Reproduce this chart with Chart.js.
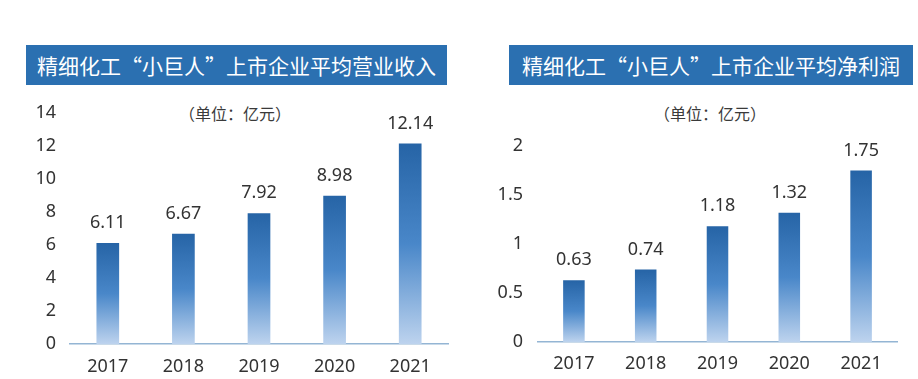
<!DOCTYPE html>
<html>
<head>
<meta charset="utf-8">
<script src="https://cdn.jsdelivr.net/npm/chart.js@4"></script>
<style>
  html, body { margin: 0; padding: 0; background: #fff; }
  body { width: 918px; height: 379px; position: relative; overflow: hidden;
         font-family: "Noto Sans CJK SC", "Noto Sans", sans-serif; }
  .banner { position: absolute; top: 45px; height: 40px; line-height: 40px;
            background: #2b70b1; color: #fff; font-size: 21px; text-align: center; }
  .unit { position: absolute; top: 101px; font-size: 16px; color: #3a3a3a;
          font-family: "Noto Sans CJK SC", serif; }
  .box { position: absolute; }
</style>
</head>
<body>
<div class="banner" style="left:26px;width:421px">精细化工“小巨人”上市企业平均营业收入</div>
<div class="banner" style="left:509px;width:404px">精细化工“小巨人”上市企业平均净利润</div>
<div class="unit" style="left:179px">（单位：亿元）</div>
<div class="unit" style="left:654px">（单位：亿元）</div>
<div class="box" style="left:0;top:88px;width:460px;height:291px"><canvas id="revChart"></canvas></div>
<div class="box" style="left:460px;top:100px;width:458px;height:279px"><canvas id="profitChart"></canvas></div>

<script>
var years = ['2017', '2018', '2019', '2020', '2021'];
var revenue = [6.11, 6.67, 7.92, 8.98, 12.14];
var profit = [0.63, 0.74, 1.18, 1.32, 1.75];
var revTicks = [0, 2, 4, 6, 8, 10, 12, 14];
var profitTicks = [0, 0.5, 1, 1.5, 2];

const tickFont = { family: "'Noto Sans', 'Noto Sans CJK SC', sans-serif", size: 18 };

// each bar gets its own dark-top / light-bottom gradient
const barFill = (context) => {
    var chart = context.chart;
    var y = chart.scales.y;
    if (!chart.chartArea || !y || context.raw === undefined) return '#3b7cc0';
    var top = y.getPixelForValue(context.raw);
    var bottom = y.getPixelForValue(0);
    var g = chart.ctx.createLinearGradient(0, top, 0, bottom);
    g.addColorStop(0, '#2664a6');
    g.addColorStop(0.5, '#4987c9');
    g.addColorStop(1, '#bdd3ee');
    return g;
}

// value labels above bars
const valueLabels = {
    id: 'valueLabels',
    afterDatasetsDraw(chart) {
        var ctx = chart.ctx;
        var meta = chart.getDatasetMeta(0);
        ctx.save();
        ctx.font = "18px 'Noto Sans', sans-serif";
        ctx.fillStyle = '#333';
        ctx.textAlign = 'center';
        ctx.textBaseline = 'middle';
        meta.data.forEach(function (bar, i) {
            var v = chart.data.datasets[0].data[i];
            ctx.fillText(v.toFixed(2), bar.x, bar.y - 20);
        });
        ctx.restore();
    }
}

const renderChart = (el, values, ticks, opts) => {
    return new Chart(document.getElementById(el), {
        type: 'bar',
        data: {
            labels: years,
            datasets: [{
                data: values,
                backgroundColor: barFill,
                barPercentage: 0.3,
                categoryPercentage: 1
            }]
        },
        options: {
            responsive: true,
            maintainAspectRatio: false,
            animation: false,
            layout: { padding: opts.padding },
            plugins: { legend: { display: false }, tooltip: { enabled: false } },
            scales: {
                x: {
                    grid: { display: false, drawTicks: false },
                    border: { display: true, color: '#94b5d4', width: 1.5 },
                    ticks: { color: '#333', font: tickFont, padding: opts.xPad },
                    afterFit: (s) => { s.height = opts.xHeight; }
                },
                y: {
                    min: 0,
                    max: ticks[ticks.length - 1],
                    afterBuildTicks: (s) => { s.ticks = ticks.map(v => ({ value: v })); },
                    grid: { display: false, drawTicks: false },
                    border: { display: false },
                    ticks: { color: '#333', font: tickFont, padding: opts.yPad,
                             callback: (v) => String(v) },
                    afterFit: (s) => { s.width = opts.yWidth; }
                }
            }
        },
        plugins: [valueLabels]
    });
}

renderChart('revChart', revenue, revTicks, {
    padding: { top: 0, right: 12, left: 0, bottom: 0 },
    xHeight: 35, xPad: 12, yWidth: 70, yPad: 14
});
renderChart('profitChart', profit, profitTicks, {
    padding: { top: 46, right: 21, left: 0, bottom: 0 },
    xHeight: 37, xPad: 11, yWidth: 78, yPad: 15
});
</script>
</body>
</html>
